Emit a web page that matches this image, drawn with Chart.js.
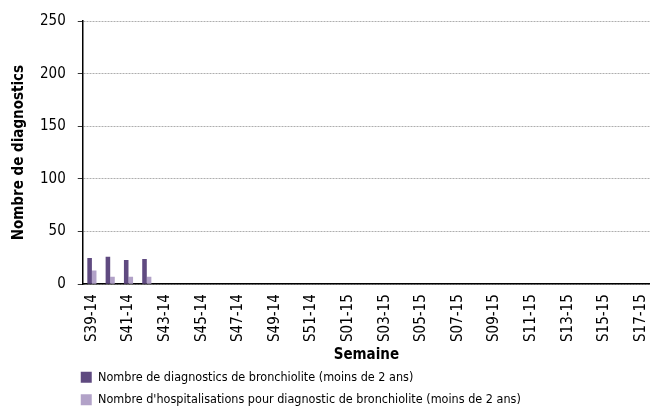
<!DOCTYPE html>
<html>
<head>
<meta charset="utf-8">
<script src="https://cdn.jsdelivr.net/npm/chart.js@4/dist/chart.umd.min.js"></script>
<style>
  html, body { margin: 0; padding: 0; background: #fff; }
  #wrap { width: 650px; height: 419px; }
</style>
</head>
<body>
<div id="wrap"><canvas id="chart"></canvas></div>
<script>
const weeks = [
    'S39-14', 'S40-14', 'S41-14', 'S42-14', 'S43-14', 'S44-14', 'S45-14', 'S46-14',
    'S47-14', 'S48-14', 'S49-14', 'S50-14', 'S51-14', 'S52-14',
    'S01-15', 'S02-15', 'S03-15', 'S04-15', 'S05-15', 'S06-15', 'S07-15', 'S08-15',
    'S09-15', 'S10-15', 'S11-15', 'S12-15', 'S13-15', 'S14-15', 'S15-15', 'S16-15', 'S17-15'
];
const diagnostics = [25, 26, 23, 24];
const hospitalisations = [13, 7, 7, 7];
const yTicks = [0, 50, 100, 150, 200, 250];

const FONT = "'DejaVu Sans Condensed', 'Open Sans', sans-serif";

// shift the legend so it lines up with the plot area
const legendShift = {
    id: 'legendShift',
    afterLayout(chart) {
        const lg = chart.legend;
        const dx = chart.chartArea.left - 12 - lg.left;
        lg.left += dx;
        lg.right += dx;
    }
};

new Chart(document.getElementById('chart'), {
    type: 'bar',
    data: {
        labels: weeks,
        datasets: [{
            label: 'Nombre de diagnostics de bronchiolite (moins de 2 ans)',
            data: diagnostics,
            backgroundColor: '#5f4a80',
            categoryPercentage: 0.5,
            barPercentage: 1.0
        }, {
            label: "Nombre d'hospitalisations pour diagnostic de bronchiolite (moins de 2 ans)",
            data: hospitalisations,
            backgroundColor: '#b2a2c8',
            categoryPercentage: 0.5,
            barPercentage: 1.0
        }]
    },
    options: {
        responsive: true,
        maintainAspectRatio: false,
        animation: false,
        layout: { padding: { top: 11, right: 0, left: 10, bottom: 3 } },
        plugins: {
            tooltip: { enabled: false },
            legend: {
                position: 'bottom',
                align: 'start',
                labels: {
                    boxWidth: 11,
                    boxHeight: 11,
                    padding: 10,
                    color: '#000',
                    font: { family: FONT, size: 12.5 }
                }
            }
        },
        scales: {
            x: {
                afterFit: function (scale) { scale.paddingLeft = 0; scale.paddingRight = 0; },
                grid: { display: false, drawTicks: true, tickLength: 6, offset: true },
                border: { color: '#000', width: 1.5 },
                ticks: {
                    autoSkip: false,
                    maxRotation: 90,
                    minRotation: 90,
                    padding: 4,
                    color: '#000',
                    font: { family: FONT, size: 15 },
                    callback: function (v, i) { return i % 2 === 0 ? weeks[i] : ''; }
                },
                title: {
                    display: true,
                    text: 'Semaine',
                    color: '#000',
                    padding: { top: 0, bottom: -3 },
                    font: { family: FONT, size: 15, weight: 'bold' }
                }
            },
            y: {
                min: 0,
                max: 250,
                afterBuildTicks: function (axis) { axis.ticks = yTicks.map(v => ({ value: v })); },
                grid: {
                    color: '#999',
                    lineWidth: 0.8,
                    tickLength: 5,
                    tickColor: '#000',
                    drawTicks: true
                },
                border: { color: '#000', width: 1.5, dash: [2, 1], dashOffset: 0 },
                ticks: {
                    color: '#000',
                    padding: 12,
                    font: { family: FONT, size: 15 }
                },
                title: {
                    display: true,
                    text: 'Nombre de diagnostics',
                    color: '#000',
                    padding: { top: 0, bottom: 0 },
                    font: { family: FONT, size: 15, weight: 'bold' }
                }
            }
        }
    },
    plugins: [legendShift]
});
</script>
</body>
</html>
